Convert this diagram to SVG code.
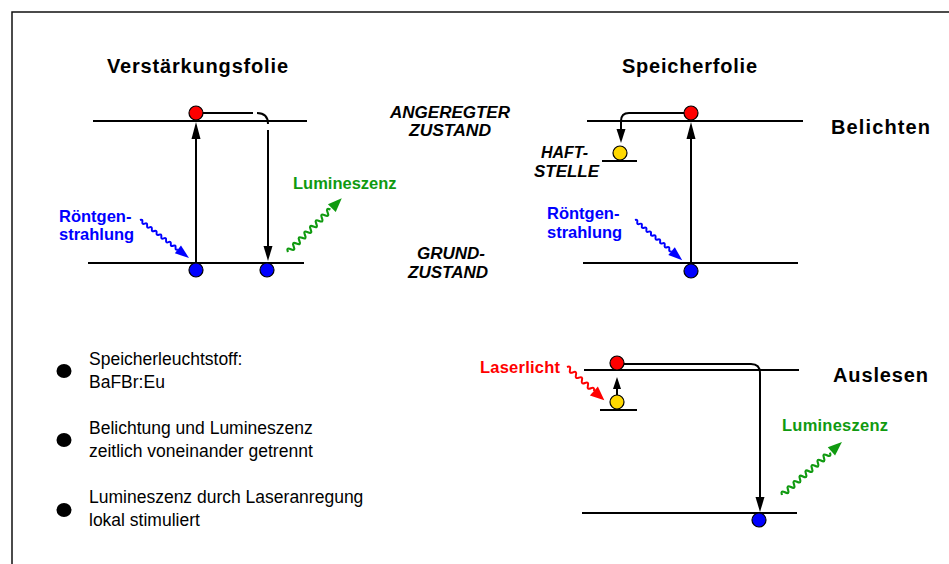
<svg xmlns="http://www.w3.org/2000/svg" width="949" height="564" viewBox="0 0 949 564">
<style>
.lvl{stroke:#000;stroke-width:2;fill:none}
.con{stroke:#000;stroke-width:2;fill:none}
.head{fill:#000}
.dot{stroke:#000;stroke-width:1.2}
.red{fill:#ff0000}
.blue{fill:#0000ff}
.yel{fill:#ffd800}
.title{font-family:"Liberation Sans",Arial,sans-serif;font-weight:bold;font-size:20px;fill:#000}
.ital{font-family:"Liberation Sans",Arial,sans-serif;font-weight:bold;font-style:italic;font-size:16px;fill:#000}
.lbl{font-family:"Liberation Sans",Arial,sans-serif;font-weight:bold;font-size:16.5px}
.bul{font-family:"Liberation Sans",Arial,sans-serif;font-size:17.5px;fill:#000}
.wb{stroke:#0000ff;stroke-width:2;fill:none}
.wg{stroke:#109a10;stroke-width:2.2;fill:none}
.wr{stroke:#ff0000;stroke-width:2;fill:none}
</style>
<rect x="12" y="12" width="960" height="580" fill="none" stroke="#111" stroke-width="1.5"/>

<g id="titles">
<text class="title" x="107" y="73" textLength="181">Verstärkungsfolie</text>
<text class="title" x="622" y="73" textLength="135">Speicherfolie</text>
<text class="title" x="831" y="134" textLength="99">Belichten</text>
<text class="title" x="833" y="382" textLength="95">Auslesen</text>
</g>

<g id="state-labels">
<text class="ital" x="390" y="118" textLength="120" lengthAdjust="spacingAndGlyphs">ANGEREGTER</text>
<text class="ital" x="409" y="136" textLength="82" lengthAdjust="spacingAndGlyphs">ZUSTAND</text>
<text class="ital" x="417" y="259" textLength="68" lengthAdjust="spacingAndGlyphs">GRUND-</text>
<text class="ital" x="408" y="278" textLength="80" lengthAdjust="spacingAndGlyphs">ZUSTAND</text>
<text class="ital" x="541" y="158" textLength="47" lengthAdjust="spacingAndGlyphs">HAFT-</text>
<text class="ital" x="534" y="177" textLength="65" lengthAdjust="spacingAndGlyphs">STELLE</text>
</g>

<g id="levels">
<line class="lvl" x1="93" y1="121" x2="307" y2="121"/>
<line class="lvl" x1="88" y1="263" x2="304" y2="263"/>
<line class="lvl" x1="587" y1="121" x2="803" y2="121"/>
<line class="lvl" x1="583" y1="263" x2="798" y2="263"/>
<line class="lvl" x1="602" y1="161" x2="637" y2="161"/>
<line class="lvl" x1="584" y1="370" x2="799" y2="370"/>
<line class="lvl" x1="582" y1="513" x2="797" y2="513"/>
<line class="lvl" x1="600" y1="410" x2="637" y2="410"/>
</g>

<g id="connectors">
<line class="con" x1="196" y1="263" x2="196" y2="137"/>
<polygon class="head" points="196,122 191.5,139 200.5,139"/>
<path class="con" d="M203,113 H253"/>
<path class="con" d="M257,113 Q268,113 268,124"/>
<path class="con" d="M268,130 V248"/>
<polygon class="head" points="268,261 263.5,246 272.5,246"/>

<line class="con" x1="691" y1="263" x2="691" y2="137"/>
<polygon class="head" points="691,122 686.5,139 695.5,139"/>
<path class="con" d="M684,113 H629 Q621,113 621,121 V131"/>
<polygon class="head" points="621,143 616.5,129 625.5,129"/>

<path class="con" d="M624,364 H751 Q760,364 760,373 V498"/>
<polygon class="head" points="760,512 755.5,497 764.5,497"/>
<line class="con" x1="617" y1="395" x2="617" y2="387"/>
<polygon class="head" points="617,377 613,389 621,389"/>
</g>

<g id="waves">
<g transform="translate(140,220) rotate(37.8)">
<path class="wb" d="M0,0 q1.5,-2.6 3,0 t3,0 t3,0 t3,0 t3,0 t3,0 t3,0 t3,0 t3,0 t3,0 t3,0 t3,0 t3,0 t3,0 t3,0 t3,0"/>
<polygon points="48,-5 62,0 48,5" fill="#0000ff"/>
</g>
<g transform="translate(635,220) rotate(40.4)">
<path class="wb" d="M0,0 q1.5,-2.6 3,0 t3,0 t3,0 t3,0 t3,0 t3,0 t3,0 t3,0 t3,0 t3,0 t3,0 t3,0 t3,0 t3,0 t3,0 t3,0"/>
<polygon points="48,-5 62,0 48,5" fill="#0000ff"/>
</g>
<g transform="translate(288,252) rotate(-45)">
<path class="wg" d="M0,0 q2,-5 4,0 t4,0 t4,0 t4,0 t4,0 t4,0 t4,0 t4,0 t4,0 t4,0 t4,0 t4,0 t4,0 t4,0 t4,0"/>
<polygon points="62,-5.5 76,0 62,5.5" fill="#109a10"/>
</g>
<g transform="translate(782,495) rotate(-41.5)">
<path class="wg" d="M0,0 q2,-5 4,0 t4,0 t4,0 t4,0 t4,0 t4,0 t4,0 t4,0 t4,0 t4,0 t4,0 t4,0 t4,0 t4,0 t4,0 t4,0"/>
<polygon points="66,-5.5 80,0 66,5.5" fill="#109a10"/>
</g>
<g transform="translate(567,367) rotate(41.7)">
<path class="wr" d="M0,0 q2,-4 4,0 t4,0 t4,0 t4,0 t4,0 t4,0 t4,0 t4,0 t4,0"/>
<polygon points="36,-6 50,0 36,6" fill="#ff0000"/>
</g>
</g>

<g id="dots">
<circle class="dot red" cx="196" cy="113" r="7"/>
<circle class="dot blue" cx="196" cy="270" r="7"/>
<circle class="dot blue" cx="267" cy="270" r="7"/>
<circle class="dot red" cx="691" cy="113" r="7"/>
<circle class="dot yel" cx="620" cy="153" r="7"/>
<circle class="dot blue" cx="691" cy="271" r="7"/>
<circle class="dot red" cx="617" cy="363" r="7"/>
<circle class="dot yel" cx="617" cy="402" r="7"/>
<circle class="dot blue" cx="759" cy="520" r="7"/>
</g>

<g id="radiation-labels">
<text class="lbl" x="59" y="222" fill="#0000ff">Röntgen-</text>
<text class="lbl" x="59" y="240" fill="#0000ff">strahlung</text>
<text class="lbl" x="293" y="189" fill="#109a10">Lumineszenz</text>
<text class="lbl" x="547" y="219" fill="#0000ff">Röntgen-</text>
<text class="lbl" x="547" y="238" fill="#0000ff">strahlung</text>
<text class="lbl" x="480" y="373" fill="#ff0000" textLength="80">Laserlicht</text>
<text class="lbl" x="782" y="431" fill="#109a10" textLength="106">Lumineszenz</text>
</g>

<g id="bullets">
<ellipse cx="64" cy="371" rx="7.5" ry="7"/>
<ellipse cx="64" cy="440" rx="7.5" ry="7"/>
<ellipse cx="64" cy="510" rx="7.5" ry="7"/>
<text class="bul" x="89" y="365">Speicherleuchtstoff:</text>
<text class="bul" x="89" y="388">BaFBr:Eu</text>
<text class="bul" x="89" y="434">Belichtung und Lumineszenz</text>
<text class="bul" x="89" y="457">zeitlich voneinander getrennt</text>
<text class="bul" x="89" y="503">Lumineszenz durch Laseranregung</text>
<text class="bul" x="89" y="526">lokal stimuliert</text>
</g>
</svg>
